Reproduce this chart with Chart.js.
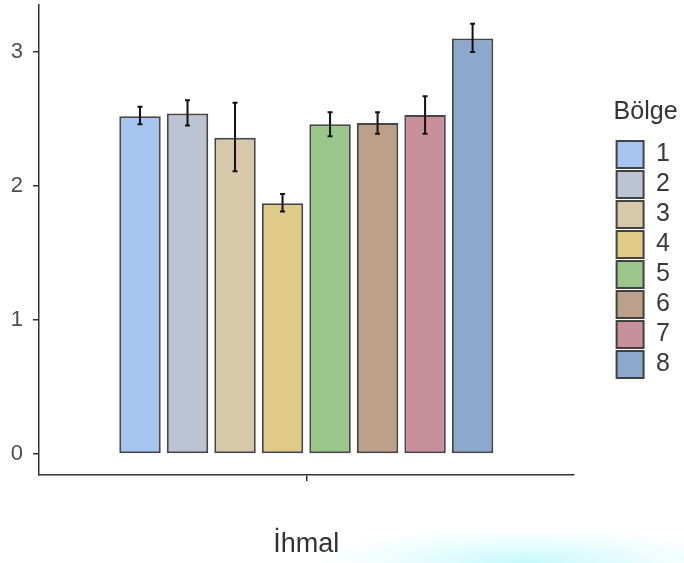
<!DOCTYPE html>
<html>
<head>
<meta charset="utf-8">
<script src="https://cdn.jsdelivr.net/npm/chart.js@4/dist/chart.umd.min.js"></script>
<style>
  html, body { margin: 0; padding: 0; }
  body {
    width: 684px; height: 563px; overflow: hidden;
    background:
      radial-gradient(ellipse 210px 34px at 525px 562px, rgba(190,248,250,0.85), rgba(215,250,252,0.45) 60%, rgba(255,255,255,0) 100%),
      #fff;
  }
  canvas { display: block; }
</style>
</head>
<body>
<canvas id="chart" width="684" height="563"></canvas>
<script>
// Datos
const categories = ['İhmal'];
const regions = ['1', '2', '3', '4', '5', '6', '7', '8'];
const means = [2.52, 2.54, 2.36, 1.87, 2.46, 2.47, 2.53, 3.10];
const lower = [2.46, 2.45, 2.11, 1.81, 2.37, 2.39, 2.39, 3.00];
const upper = [2.59, 2.64, 2.62, 1.94, 2.55, 2.55, 2.67, 3.21];
const yTicks = [0, 1, 2, 3];
const colors = ['#a6c4f0', '#bcc4d3', '#d8c8aa', '#e0ca88', '#9ac68c', '#bca08a', '#c8909a', '#8ca8cc'];

const FONT = 'Liberation Sans, Arial, Helvetica, sans-serif';

// Barras de error dibujadas con la escala y
const errorBars = {
    id: 'errorBars',
    afterDatasetsDraw(chart) {
        const { ctx, scales: { y } } = chart;
        ctx.save();
        ctx.strokeStyle = '#111';
        ctx.lineWidth = 2;
        chart.data.datasets.forEach((ds, i) => {
            const meta = chart.getDatasetMeta(i);
            if (meta.hidden) return;
            const bar = meta.data[0];
            const yLo = y.getPixelForValue(lower[i]);
            const yHi = y.getPixelForValue(upper[i]);
            const cap = 2.5;
            ctx.beginPath();
            ctx.moveTo(bar.x, yLo); ctx.lineTo(bar.x, yHi);
            ctx.moveTo(bar.x - cap, yLo); ctx.lineTo(bar.x + cap, yLo);
            ctx.moveTo(bar.x - cap, yHi); ctx.lineTo(bar.x + cap, yHi);
            ctx.stroke();
        });
        ctx.restore();
    }
};

const datasets = regions.map((r, i) => ({
    label: r,
    data: [means[i]],
    backgroundColor: colors[i],
    borderColor: 'rgba(50,50,50,0.9)',
    borderWidth: 2,
    borderSkipped: false,
    categoryPercentage: 0.711,
    barPercentage: 0.872
}));

const noPad = s => { s.paddingTop = 0; s.paddingBottom = 0; };

new Chart(document.getElementById('chart'), {
    type: 'bar',
    data: { labels: categories, datasets },
    options: {
        responsive: false,
        animation: false,
        layout: { padding: { top: 5, right: 4, left: 0, bottom: 0 } },
        plugins: {
            tooltip: { enabled: false },
            legend: {
                position: 'right',
                align: 'start',
                labels: {
                    boxWidth: 27,
                    boxHeight: 27,
                    padding: 3,
                    color: '#3a3a3a',
                    font: { family: FONT, size: 25 }
                },
                title: {
                    display: true,
                    text: 'Bölge',
                    position: 'start',
                    color: '#333',
                    font: { family: FONT, size: 25 },
                    padding: { top: 95, bottom: 8 }
                }
            }
        },
        scales: {
            x: {
                position: 'bottom',
                grid: { display: true, drawOnChartArea: false, offset: false, tickLength: 6, color: '#333', lineWidth: 1.5 },
                border: { color: '#333', width: 1.5 },
                ticks: { callback: () => '' },
                title: {
                    display: true,
                    text: categories[0],
                    color: '#333',
                    font: { family: FONT, size: 27 },
                    padding: { top: 0, bottom: 2 }
                },
                afterFit: s => { s.height = 88; }
            },
            y: {
                min: -0.157,
                max: 3.35,
                grid: { display: true, drawOnChartArea: false, tickLength: 6, color: '#333', lineWidth: 1.5 },
                border: { color: '#333', width: 1.5 },
                ticks: { color: '#4d4d4d', padding: 10, font: { family: FONT, size: 22 } },
                afterBuildTicks: s => { s.ticks = yTicks.map(v => ({ value: v })); },
                afterFit: s => { s.width = 39; noPad(s); }
            },
            // eje vacio para dejar espacio antes de la leyenda
            gap: {
                type: 'linear',
                position: 'right',
                display: true,
                grid: { display: false },
                border: { display: false },
                ticks: { display: false },
                afterFit: s => { s.width = 40; noPad(s); }
            }
        }
    },
    plugins: [errorBars]
});
</script>
</body>
</html>
